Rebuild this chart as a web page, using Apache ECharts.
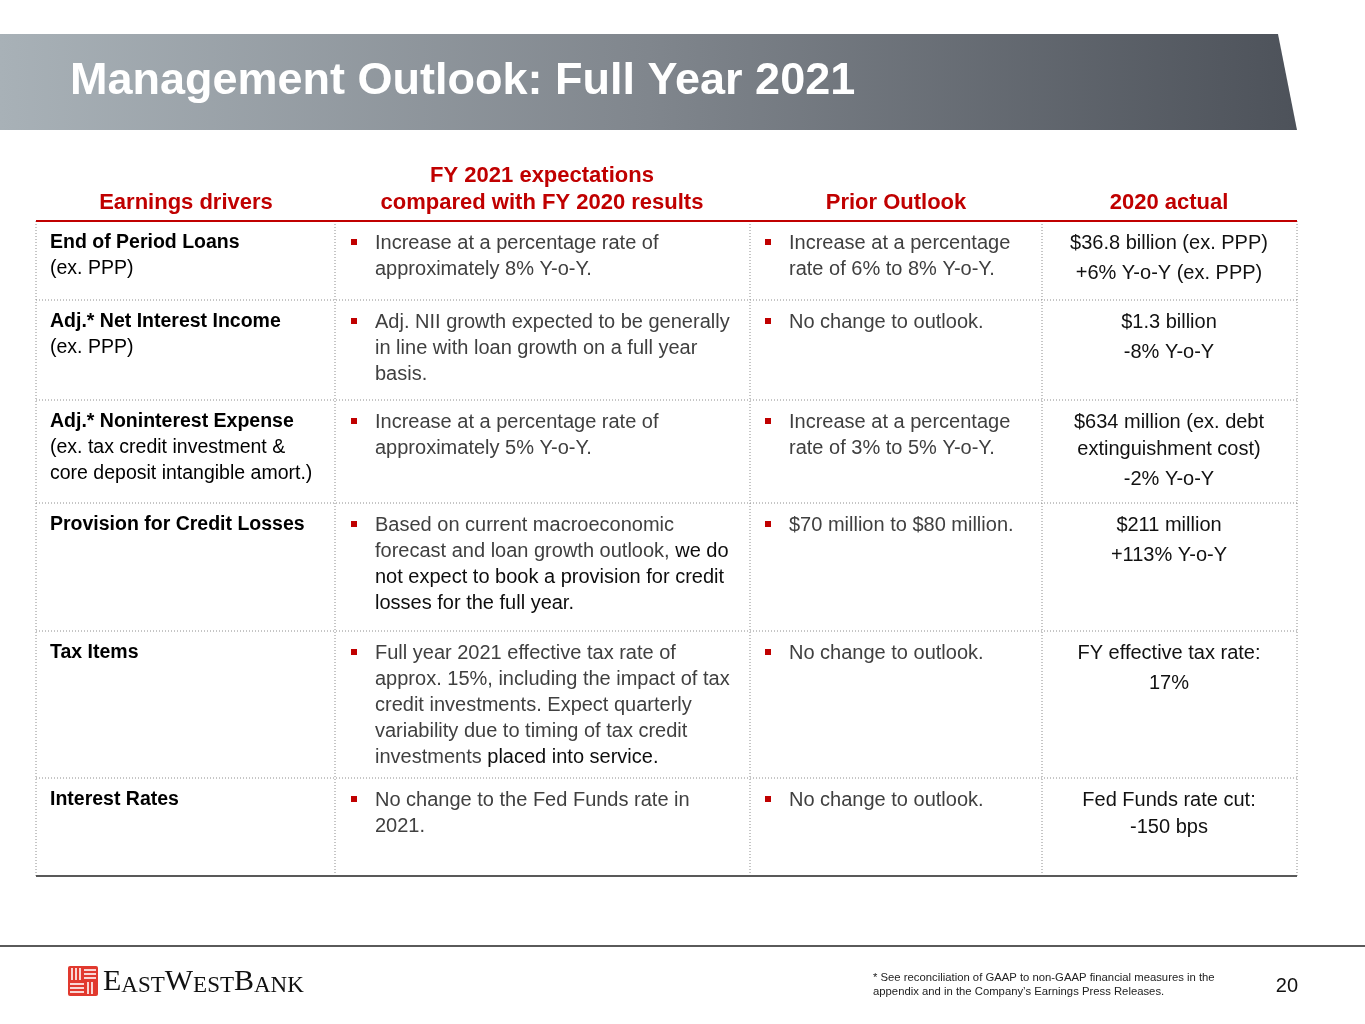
<!DOCTYPE html>
<html><head><meta charset="utf-8">
<script src="https://cdn.jsdelivr.net/npm/echarts@6/dist/echarts.min.js"></script>
<style>html,body{margin:0;padding:0;background:#fff}#c{width:1365px;height:1024px}</style>
</head><body><div id="c"></div>
<script>
// ---- content ----
const titleText = 'Management Outlook: Full Year 2021';
const headers = [['Earnings drivers'], ['FY 2021 expectations', 'compared with FY 2020 results'], ['Prior Outlook'], ['2020 actual']];
const driverTitles = ['End of Period Loans', 'Adj.* Net Interest Income', 'Adj.* Noninterest Expense', 'Provision for Credit Losses', 'Tax Items', 'Interest Rates'];
const driverNotes = [['(ex. PPP)'], ['(ex. PPP)'], ['(ex. tax credit investment &', 'core deposit intangible amort.)'], [], [], []];
const expectations = [
  ['Increase at a percentage rate of', 'approximately 8% Y-o-Y.'],
  ['Adj. NII growth expected to be generally', 'in line with loan growth on a full year', 'basis.'],
  ['Increase at a percentage rate of', 'approximately 5% Y-o-Y.'],
  ['Based on current macroeconomic', 'forecast and loan growth outlook, {d|we do}', '{d|not expect to book a provision for credit}', '{d|losses for the full year.}'],
  ['Full year 2021 effective tax rate of', 'approx. 15%, including the impact of tax', 'credit investments. Expect quarterly', 'variability due to timing of tax credit', 'investments {d|placed into service.}'],
  ['No change to the Fed Funds rate in', '2021.']
];
const priorOutlook = [
  ['Increase at a percentage', 'rate of 6% to 8% Y-o-Y.'],
  ['No change to outlook.'],
  ['Increase at a percentage', 'rate of 3% to 5% Y-o-Y.'],
  ['$70 million to $80 million.'],
  ['No change to outlook.'],
  ['No change to outlook.']
];
const actual2020 = [
  [['$36.8 billion (ex. PPP)'], ['+6% Y-o-Y (ex. PPP)']],
  [['$1.3 billion'], ['-8% Y-o-Y']],
  [['$634 million (ex. debt', 'extinguishment cost)'], ['-2% Y-o-Y']],
  [['$211 million'], ['+113% Y-o-Y']],
  [['FY effective tax rate:'], ['17%']],
  [['Fed Funds rate cut:', '-150 bps']]
];
const footnoteLines = ['* See reconciliation of GAAP to non-GAAP financial measures in the', 'appendix and in the Company\u2019s Earnings Press Releases.'];
const pageNumber = '20';

// ---- layout ----
const FONT = 'Arial, "Liberation Sans", sans-serif';
const RED = '#c00000';
const GRAY = '#404040';
const colX = [36, 335, 750, 1042, 1297];
const rowTops = [221, 300, 400, 503, 631, 778];
const tableBottom = 876;
const LH = 26;

const g = [];
function txt(x, y, text, opt) {
  opt = opt || {};
  g.push({
    type: 'text', x: x, y: y, z: 10,
    style: {
      text: text, fill: opt.color || '#000',
      font: (opt.weight || 'normal') + ' ' + (opt.size || 20) + 'px ' + (opt.family || FONT),
      align: opt.align || 'left', verticalAlign: 'middle',
      rich: opt.rich
    }
  });
}
function line(x1, y1, x2, y2, color, w, dash, z) {
  g.push({ type: 'line', z: z || 5, shape: { x1: x1, y1: y1, x2: x2, y2: y2 },
    style: { stroke: color, lineWidth: w, lineDash: dash || null } });
}

// title bar
g.push({ type: 'polygon', z: 1, shape: { points: [[0, 34], [1278, 34], [1297, 130], [0, 130]] },
  style: { fill: new echarts.graphic.LinearGradient(0, 0, 1, 0, [
    { offset: 0, color: '#a8b1b7' }, { offset: 0.5, color: '#80868d' }, { offset: 1, color: '#4d525a' }]) } });
txt(70, 82, titleText, { color: '#fff', weight: 'bold', size: 45 });

// headers
const headCenters = [186, 542, 896, 1169];
headers.forEach((h, i) => {
  const n = h.length;
  h.forEach((t, j) => txt(headCenters[i], 203 - (n - 1 - j) * 27, t, { color: RED, weight: 'bold', size: 22, align: 'center' }));
});

// grid lines
const DOT = '#8c8c8c';
rowTops.forEach((y, i) => { if (i > 0) line(colX[0], y, colX[4], y, DOT, 1, [1, 2]); });
colX.forEach(x => line(x, rowTops[0], x, tableBottom, DOT, 1, [1, 2]));
line(colX[0], rowTops[0], colX[4], rowTops[0], RED, 2);
line(colX[0], tableBottom, colX[4], tableBottom, '#595959', 2);

const rich = { d: { fill: '#0d0d0d', font: 'normal 20px ' + FONT } };
rowTops.forEach((top, r) => {
  const y0 = top + 22;
  // column 1
  txt(50, y0, driverTitles[r], { weight: 'bold', size: 19.5 });
  driverNotes[r].forEach((t, k) => txt(50, y0 + (k + 1) * LH, t, { size: 19.5 }));
  // column 2
  g.push({ type: 'rect', z: 10, shape: { x: 351, y: y0 - 4, width: 6, height: 6 }, style: { fill: RED } });
  expectations[r].forEach((t, k) => txt(375, y0 + k * LH, t, { color: GRAY, rich: rich }));
  // column 3
  g.push({ type: 'rect', z: 10, shape: { x: 765, y: y0 - 4, width: 6, height: 6 }, style: { fill: RED } });
  priorOutlook[r].forEach((t, k) => txt(789, y0 + k * LH, t, { color: GRAY }));
  // column 4
  let y = y0;
  actual2020[r].forEach((para, p) => {
    if (p > 0) y += 30;
    para.forEach((t, k) => { if (k > 0) y += LH + 1; txt(1169, y, t, { align: 'center', color: '#111' }); });
  });
});

// footer
line(0, 946, 1365, 946, '#5a5a5a', 2);
g.push({ type: 'rect', z: 10, shape: { x: 68, y: 966, width: 30, height: 30, r: 2 }, style: { fill: '#e1392e' } });
const W = '#fff';
[72, 76, 80].forEach(x => line(x, 968, x, 980, W, 1.6, null, 12));
[970, 974, 978].forEach(y => line(84, y, 96, y, W, 1.6, null, 12));
[984, 988, 992].forEach(y => line(70, y, 84, y, W, 1.6, null, 12));
[88, 92].forEach(x => line(x, 982, x, 994, W, 1.6, null, 12));
txt(103, 982, '{b|E}{s|AST}{b|W}{s|EST}{b|B}{s|ANK}', {
  family: '"Liberation Serif", "DejaVu Serif", serif', size: 23, color: '#111',
  rich: {
    b: { font: 'normal 30px "Liberation Serif", serif', fill: '#111', verticalAlign: 'bottom' },
    s: { font: 'normal 23px "Liberation Serif", serif', fill: '#111', verticalAlign: 'bottom' }
  }
});
footnoteLines.forEach((t, k) => txt(873, 978 + k * 14, t, { size: 11.3, color: '#222' }));
txt(1298, 986, pageNumber, { size: 20, align: 'right', color: '#111' });

const chart = echarts.init(document.getElementById('c'), null, { renderer: 'canvas' });
chart.setOption({ animation: false, backgroundColor: '#fff', graphic: { elements: g } });
</script>
</body></html>
